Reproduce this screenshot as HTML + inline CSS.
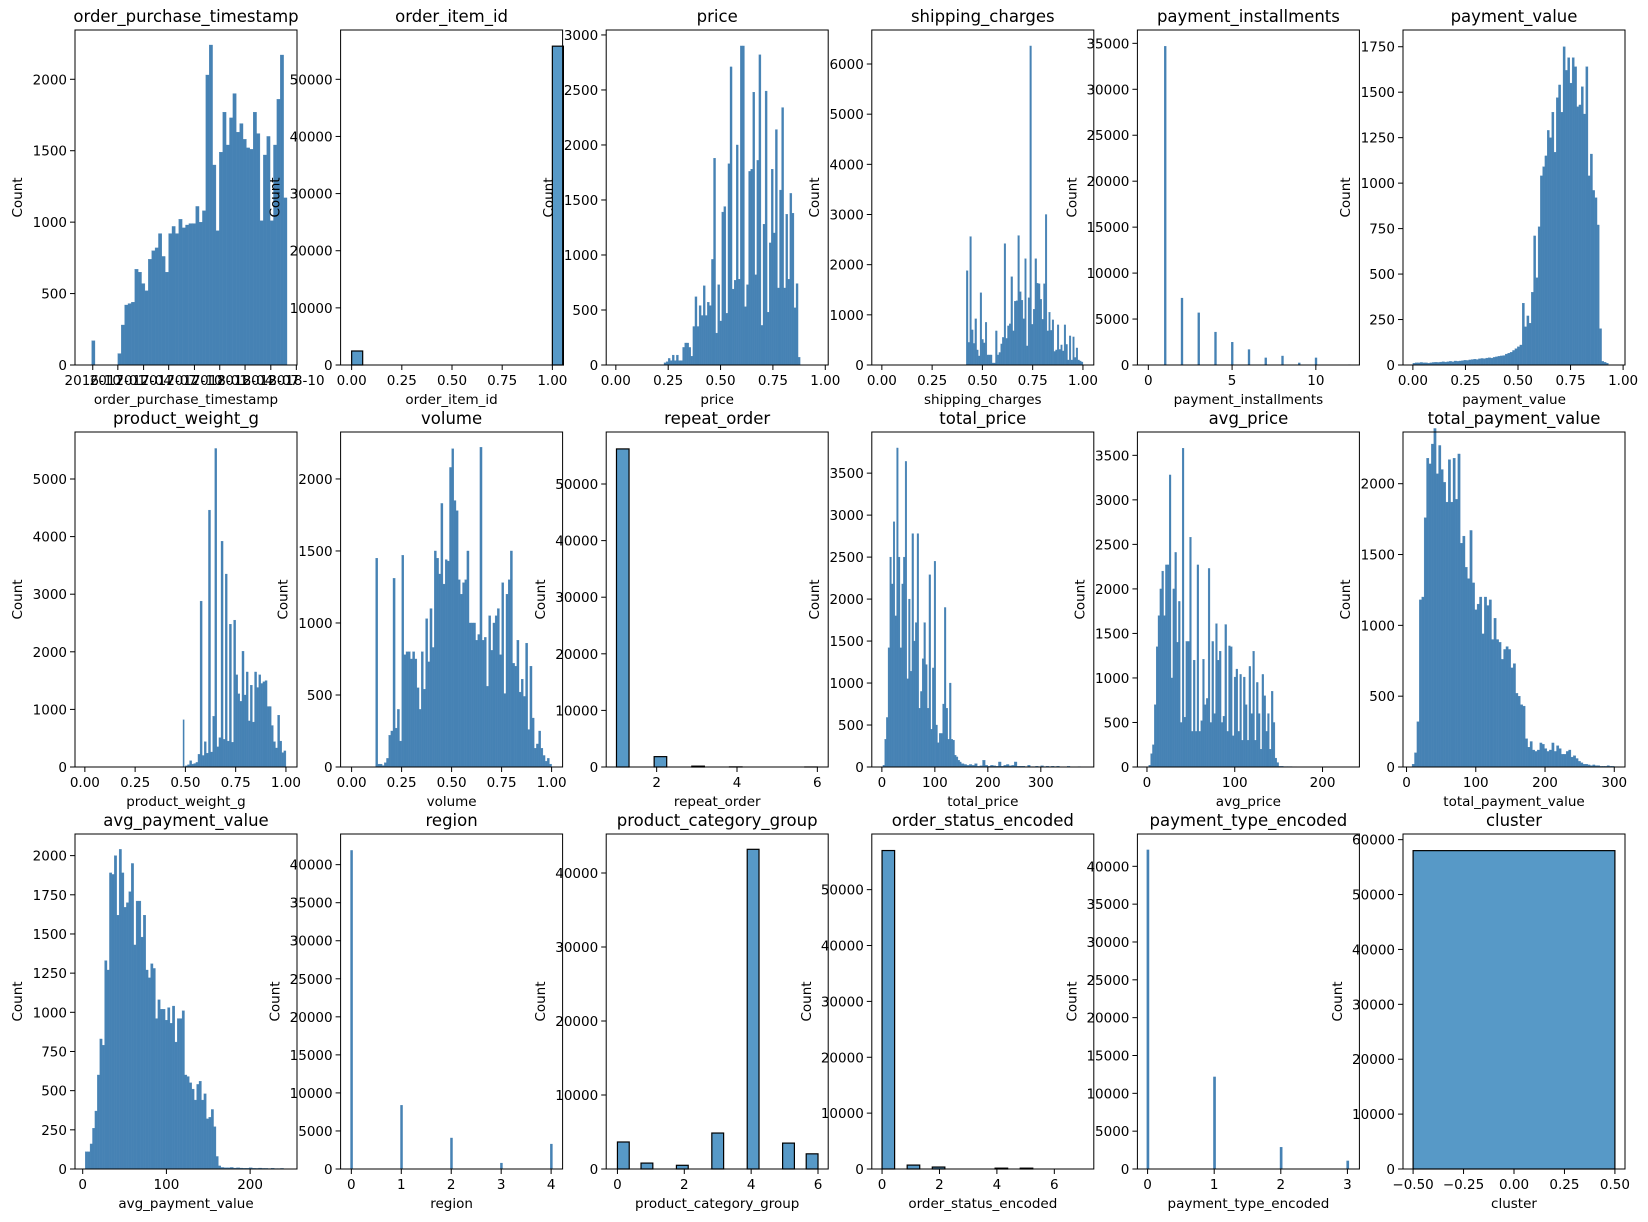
<!DOCTYPE html>
<html><head><meta charset="utf-8">
<style>
html,body{margin:0;padding:0;background:#fff;}
svg{display:block;font-family:"DejaVu Sans","Liberation Sans",sans-serif;}
</style></head>
<body>
<svg id="fig" width="1648" height="1222" viewBox="0 0 1648 1222" xmlns="http://www.w3.org/2000/svg">
<rect width="1648" height="1222" fill="#ffffff"/>
</svg>
<script>
// ---------- data arrays ----------
const tsCounts=[80,280,420,430,440,670,650,570,520,740,800,820,920,760,650,920,970,920,1020,960,980,990,990,1110,1000,1080,2030,2240,1400,940,1490,1770,1540,1730,1900,1630,1690,1580,1520,1510,1770,1620,1010,1470,1600,1010,1540,1860,2170,1170];
const tsEarly=[170];
const tsTicks=[8,19.3,30.9,42.2,53.8,65.2,76.6,88.2,99.7];
const tsLabels=["2016-10","2017-01","2017-04","2017-07","2017-10","2018-01","2018-04","2018-07","2018-10"];
const itemCats=[0,1];
const itemVals=[2450,55800];
const priceCounts=[20,30,60,40,90,40,90,40,40,160,200,200,160,80,350,620,350,540,450,720,450,570,540,960,1880,290,730,400,1390,1440,470,1830,2710,690,770,2000,780,2900,2900,530,730,1760,1780,2480,820,1860,2820,360,1280,2490,480,1110,1780,1200,2140,700,1590,2340,700,1370,780,1560,1380,520,740,70];
const shipCounts=[1880,450,2560,700,430,920,300,180,1440,510,440,850,200,200,200,40,40,680,200,250,420,550,2420,530,780,820,1760,680,1270,1280,2580,1460,1290,920,2120,380,1340,6360,810,1110,2120,1630,1620,1310,910,1620,3000,680,1050,690,900,270,300,800,310,400,280,800,410,100,580,100,560,150,340,100,80,60];
const instCats=[1,2,3,4,5,6,7,8,9,10,12];
const instVals=[34700,7300,5700,3600,2500,1700,800,1000,250,800,60];
const pvLow=[10,12,12,14,12,12,10,12,14,15,14,16,18,16,18,20,18,22,20,22,24,26,25,28,30,32,30,34,36,35,38,40,38,42,45,48,50,52,60,65,70,80,90,100,110];
const pvMain=[340,210,270,230,400,710,480,760,1040,1090,1150,1290,1250,1390,1170,1470,1540,1390,1750,1620,1690,1550,1690,1640,1420,1430,1530,1380,1640,1040,1160,960,920,770,200,20,15,10];
const wtSpike=[820];
const wtCounts=[20,40,110,50,60,80,220,2880,200,440,240,4460,260,880,5530,350,510,3920,480,3350,450,2480,430,2550,1600,1270,1140,2010,1250,1650,800,1420,780,1650,1380,1600,1450,1480,1500,1050,1050,720,440,330,900,450,250,280];
const volCounts=[1450,20,20,10,30,60,220,250,1310,270,400,180,1470,780,800,800,750,800,750,550,400,800,540,1030,730,1100,830,1500,1450,1340,1830,1270,1440,1430,2080,2210,1850,1780,1300,1200,1280,1300,1500,1000,1000,1000,880,920,2220,880,900,560,1050,810,1000,1050,1100,780,1280,510,1200,1300,1500,720,700,880,520,610,490,860,260,700,340,130,160,250,130,80,40,60,20];
const repCounts=[56200,0,0,1830,0,0,150,0,0,20,0,0,0,0,0,5];
const tpMain=[20,330,590,1420,2500,2180,2920,1800,3800,2500,1420,2180,2500,3640,1050,2000,1140,2780,1500,1720,2780,700,900,1290,1720,1220,700,2290,450,1180,2450,500,290,400,400,750,1900,700,330,1000,330,320,140,120,80,60];
const tpTail=[40,30,20,30,20,40,10,15,80,20,10,20,15,10,60,10,20,30,15,20,60,10,10,10,5,20,5,5,10,5,15,5,10,5,10,5,10,3,3,3,8,3,3,3,5];
const apMain=[20,150,250,700,1350,1700,2000,2200,1700,2270,2270,3280,1000,2000,2410,1400,1860,500,3580,560,1410,1410,2580,400,1200,400,2270,400,520,1210,700,770,2230,500,1410,600,1610,1200,1300,500,570,1600,400,1360,1350,350,1010,1100,400,1040,300,1010,700,300,1130,600,1300,300,950,600,200,1040,800,400,600,200,850,500,100,50];
const apTail=[8,5,5,4,3,3,3,2,2,2,2,2,2,2,2];
const tpvCounts=[20,100,320,1180,1200,1760,2180,2140,2280,2390,2070,2270,2100,2010,1870,2170,1870,2180,1890,2210,1580,1630,1410,1330,1670,1300,1110,1150,1200,940,1200,1140,1180,900,1050,900,880,760,830,850,830,700,730,520,500,440,430,200,140,180,120,110,120,170,160,130,110,120,170,110,150,130,90,90,110,120,70,80,60,40,30,20,20,15,10,15,10,10,5,5,5,10,5,5];
const apvMain=[110,110,160,260,370,600,830,790,1330,1270,1890,1880,2000,1620,2040,1890,1670,1700,1770,1950,1430,1710,1710,1480,1620,1270,1220,1310,1280,960,1080,1020,1020,950,1030,930,1040,810,960,960,1010,600,590,550,510,440,540,560,440,480,320,330,380,270,80,20];
const apvTail=[10,8,8,10,6,8,6,5,5,8,5,4,6,4,4,3,5,3,3,4];
const regionCats=[0,1,2,3,4];
const regionVals=[41900,8400,4100,800,3300];
const pcgCounts=[3650,0,800,0,0,500,0,0,4860,0,0,43200,0,0,3500,0,2050];
const osCounts=[57000,0,700,0,350,0,0,0,0,150,0,150,0,0,0,0];
const ptCats=[0,1,2,3];
const ptVals=[42200,12200,2900,1100];
const clusterCats=[0];
const clusterVals=[58000];

// ---------- layout ----------
const NS="http://www.w3.org/2000/svg";
const svg=document.getElementById('fig');
const COLX=[75,340.6,606.2,871.8,1137.4,1403];
const ROWY=[30,432,834];
const PW=222, PH=335;
const DENSE="#4682b4", SOLID="#5799c7";
const TF=13.5, TTF=16.5;

function mk(tag,attrs,parent){const e=document.createElementNS(NS,tag);for(const k in attrs)e.setAttribute(k,attrs[k]);(parent||svg).appendChild(e);return e;}
function fmt(v,dec){return dec?v.toFixed(dec):String(v);}

function panel(p){
  const x0=COLX[p.col], y0=ROWY[p.row];
  const g=mk('g',{});
  
  
  const sx=v=>x0+(v-p.xd[0])/(p.xd[1]-p.xd[0])*PW;
  const sy=v=>y0+PH-v/p.ymax*PH;
  (p.groups||[]).forEach(gr=>{
    const w=(gr.x1-gr.x0)/gr.c.length;
    gr.c.forEach((v,i)=>{
      if(v<=0) return;
      const a=sx(gr.x0+i*w), b=sx(gr.x0+(i+1)*w);
      const r=mk('rect',{x:a,y:sy(v),width:Math.max(b-a,0.6),height:sy(0)-sy(v),fill:p.outlined?SOLID:DENSE,stroke:p.outlined?'#000':DENSE,'stroke-width':p.outlined?1.2:0.3},g);
      
      
    });
  });
  if(p.bars){
    p.bars.cats.forEach((c,i)=>{
      const v=p.bars.vals[i];
      const a=sx(c+p.bars.off), b=sx(c+p.bars.off+p.bars.w);
      const r=mk('rect',{x:a,y:sy(v),width:Math.max(b-a,1),height:sy(0)-sy(v),fill:p.outlined?SOLID:DENSE,stroke:p.outlined?'#000':'none','stroke-width':1.2},g);
      
      
    });
  }
  const fr=mk('rect',{x:x0,y:y0,width:PW,height:PH,fill:'none',stroke:'#000','stroke-width':1},g);
  
  
  let maxc=0;
  p.yt.forEach(v=>{
    const y=sy(v);
    mk('line',{x1:x0-5,x2:x0,y1:y,y2:y,stroke:'#000','stroke-width':1},g);
    const t=mk('text',{x:x0-8,y:y+5,'text-anchor':'end','font-size':TF,fill:'#000'},g);
    t.textContent=String(v);
    
    
    maxc=Math.max(maxc,String(v).length);
  });
  p.xt.forEach((v,i)=>{
    const x=sx(v);
    mk('line',{x1:x,x2:x,y1:y0+PH,y2:y0+PH+5,stroke:'#000','stroke-width':1},g);
    const t=mk('text',{x:x,y:y0+PH+20,'text-anchor':'middle','font-size':TF,fill:'#000'},g);
    t.textContent=p.xtl?p.xtl[i]:fmt(v,p.dec);
    
    
  });
  const tt=mk('text',{x:x0+PW/2,y:y0-8,'text-anchor':'middle','font-size':TTF,fill:'#000'},g);
  tt.textContent=p.name;
  
  
  const xl=mk('text',{x:x0+PW/2,y:y0+PH+39,'text-anchor':'middle','font-size':TF,fill:'#000'},g);
  xl.textContent=p.name;
  
  
  const lx=x0-(26+8*maxc)+5, ly=y0+PH/2;
  const yl=mk('text',{x:lx,y:ly,'text-anchor':'middle','font-size':TF,fill:'#000',transform:`rotate(-90 ${lx} ${ly})`},g);
  yl.textContent='Count';
  
  
}
const r5=[0,0.25,0.5,0.75,1];
function steps(a,b,s){const o=[];for(let v=a;v<=b+1e-9;v+=s)o.push(v);return o;}

panel({name:'order_purchase_timestamp',col:0,row:0,xd:[0,100],ymax:2345,yt:steps(0,2000,500),xt:tsTicks,xtl:tsLabels,
  groups:[{x0:7.5,x1:9,c:tsEarly},{x0:19.3,x1:95.5,c:tsCounts}]});
panel({name:'order_item_id',col:1,row:0,xd:[-0.055,1.051],ymax:58630,yt:steps(0,50000,10000),xt:r5,dec:2,outlined:true,
  bars:{cats:itemCats,vals:itemVals,off:0,w:0.055}});
panel({name:'price',col:2,row:0,xd:[-0.046,1.014],ymax:3045,yt:steps(0,3000,500),xt:r5,dec:2,groups:[{x0:0.23,x1:0.88,c:priceCounts}]});
panel({name:'shipping_charges',col:3,row:0,xd:[-0.05,1.054],ymax:6678,yt:steps(0,6000,1000),xt:r5,dec:2,groups:[{x0:0.42,x1:1.0,c:shipCounts}]});
panel({name:'payment_installments',col:4,row:0,xd:[-0.652,12.6],ymax:36450,yt:steps(0,35000,5000),xt:[0,5,10],
  bars:{cats:instCats,vals:instVals,off:-0.06,w:0.14}});
panel({name:'payment_value',col:5,row:0,xd:[-0.047,1.009],ymax:1842,yt:steps(0,1750,250),xt:r5,dec:2,
  groups:[{x0:0,x1:0.52,c:pvLow},{x0:0.52,x1:0.93,c:pvMain}]});

panel({name:'product_weight_g',col:0,row:1,xd:[-0.049,1.055],ymax:5816,yt:steps(0,5000,1000),xt:r5,dec:2,
  groups:[{x0:0.488,x1:0.494,c:wtSpike},{x0:0.5,x1:1.0,c:wtCounts}]});
panel({name:'volume',col:1,row:1,xd:[-0.055,1.055],ymax:2326,yt:steps(0,2000,500),xt:r5,dec:2,groups:[{x0:0.12,x1:1.0,c:volCounts}]});
panel({name:'repeat_order',col:2,row:1,xd:[0.744,6.27],ymax:59190,yt:steps(0,50000,10000),xt:[2,4,6],outlined:true,groups:[{x0:1,x1:6,c:repCounts}]});
panel({name:'total_price',col:3,row:1,xd:[-19,400],ymax:3990,yt:steps(0,3500,500),xt:[0,100,200,300],
  groups:[{x0:2,x1:150,c:tpMain},{x0:150,x1:375,c:tpTail}]});
panel({name:'avg_price',col:4,row:1,xd:[-10.9,242],ymax:3762,yt:steps(0,3500,500),xt:[0,100,200],
  groups:[{x0:2,x1:150,c:apMain},{x0:150,x1:228,c:apTail}]});
panel({name:'total_payment_value',col:5,row:1,xd:[-5.1,315.5],ymax:2365,yt:steps(0,2000,500),xt:[0,100,200,300],groups:[{x0:8,x1:300,c:tpvCounts}]});

panel({name:'avg_payment_value',col:0,row:2,xd:[-9.2,256],ymax:2138,yt:steps(0,2000,250),xt:[0,100,200],
  groups:[{x0:3,x1:165,c:apvMain},{x0:165,x1:240,c:apvTail}]});
panel({name:'region',col:1,row:2,xd:[-0.215,4.23],ymax:44030,yt:steps(0,40000,5000),xt:[0,1,2,3,4],
  bars:{cats:regionCats,vals:regionVals,off:-0.02,w:0.05}});
panel({name:'product_category_group',col:2,row:2,xd:[-0.336,6.305],ymax:45270,yt:steps(0,40000,10000),xt:[0,2,4,6],outlined:true,groups:[{x0:0,x1:6,c:pcgCounts}]});
panel({name:'order_status_encoded',col:3,row:2,xd:[-0.357,7.375],ymax:59960,yt:steps(0,50000,10000),xt:[0,2,4,6],outlined:true,groups:[{x0:0,x1:7,c:osCounts}]});
panel({name:'payment_type_encoded',col:4,row:2,xd:[-0.153,3.18],ymax:44270,yt:steps(0,40000,5000),xt:[0,1,2,3],
  bars:{cats:ptCats,vals:ptVals,off:-0.015,w:0.04}});
panel({name:'cluster',col:5,row:2,xd:[-0.55,0.55],ymax:61030,yt:steps(0,60000,10000),xt:[-0.5,-0.25,0,0.25,0.5],dec:2,outlined:true,
  bars:{cats:clusterCats,vals:clusterVals,off:-0.5,w:1}});
document.querySelectorAll('text').forEach(t=>{if(t.textContent.startsWith('-'))t.textContent='\u2212'+t.textContent.slice(1);});
</script>
</body></html>
